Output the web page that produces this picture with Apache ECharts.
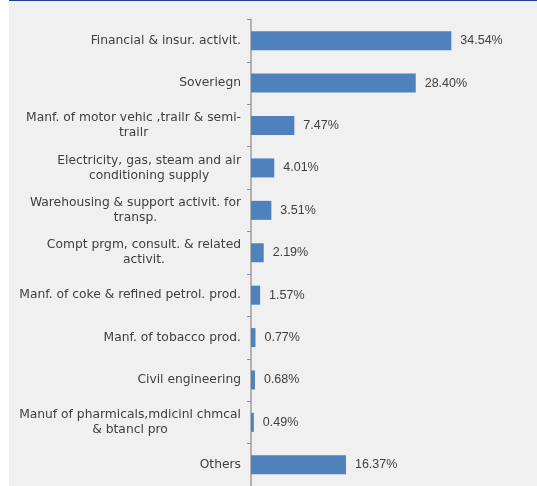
<!DOCTYPE html>
<html>
<head>
<meta charset="utf-8">
<script src="https://cdn.jsdelivr.net/npm/echarts@6/dist/echarts.min.js"></script>
<style>
  html, body { margin: 0; padding: 0; background: #ffffff; }
  #frame { position: absolute; left: 9px; top: 0; width: 528px; height: 486px; background: #f0f0f0; border-top: 1px solid #1f3f9a; box-sizing: border-box; }
  #chart { position: absolute; left: 0; top: 0; width: 537px; height: 486px; }
</style>
</head>
<body>
<div id="frame"></div>
<div id="chart"></div>
<script>
// Sector shares (per cent), listed top to bottom
const categories = [
  "Financial & insur. activit.",
  "Soveriegn",
  "Manf. of motor vehic ,trailr & semi-\ntrailr",
  "Electricity, gas, steam and air\nconditioning supply",
  "Warehousing & support activit. for\ntransp.",
  "Compt prgm, consult. & related\nactivit.",
  "Manf. of coke & refined petrol. prod.",
  "Manf. of tobacco prod.",
  "Civil engineering",
  "Manuf of pharmicals,mdicinl chmcal\n& btancl pro",
  "Others"
];
const shares = [34.54, 28.40, 7.47, 4.01, 3.51, 2.19, 1.57, 0.77, 0.68, 0.49, 16.37];

const textColor = '#404040';
const nameFont = '"DejaVu Sans", Verdana, sans-serif';
const valueFont = '"Liberation Sans", Arial, sans-serif';

const chart = echarts.init(document.getElementById('chart'), null, { renderer: 'canvas' });
chart.setOption({
  backgroundColor: 'transparent',
  animation: false,
  grid: { left: 251, top: 19.5, width: 232, height: 472, containLabel: false },
  xAxis: {
    type: 'value', min: 0, max: 40,
    show: false
  },
  yAxis: {
    type: 'category',
    inverse: true,
    data: categories,
    axisLine: { show: true, lineStyle: { color: '#b3b3b3', width: 2 } },
    axisTick: { show: true, length: 4, lineStyle: { color: '#8c8c8c', width: 1 } },
    splitLine: { show: false },
    axisLabel: {
      margin: 10,
      color: textColor,
      fontFamily: nameFont,
      fontSize: 12.3,
      lineHeight: 15,
      // each line of a wrapped name is centred within its block
      formatter: function (name) {
        return name.split('\n').map(function (l) { return '{c|' + l + '}'; }).join('\n');
      },
      rich: {
        c: { align: 'center', color: textColor, fontFamily: nameFont, fontSize: 12.3, lineHeight: 15 }
      }
    }
  },
  series: [{
    type: 'bar',
    data: shares,
    barWidth: 19,
    itemStyle: { color: '#4f81bd' },
    label: {
      show: true,
      position: 'right',
      distance: 9,
      color: textColor,
      fontFamily: valueFont,
      fontSize: 12.5,
      formatter: function (p) { return p.value.toFixed(2) + '%'; }
    }
  }]
});
</script>
</body>
</html>
